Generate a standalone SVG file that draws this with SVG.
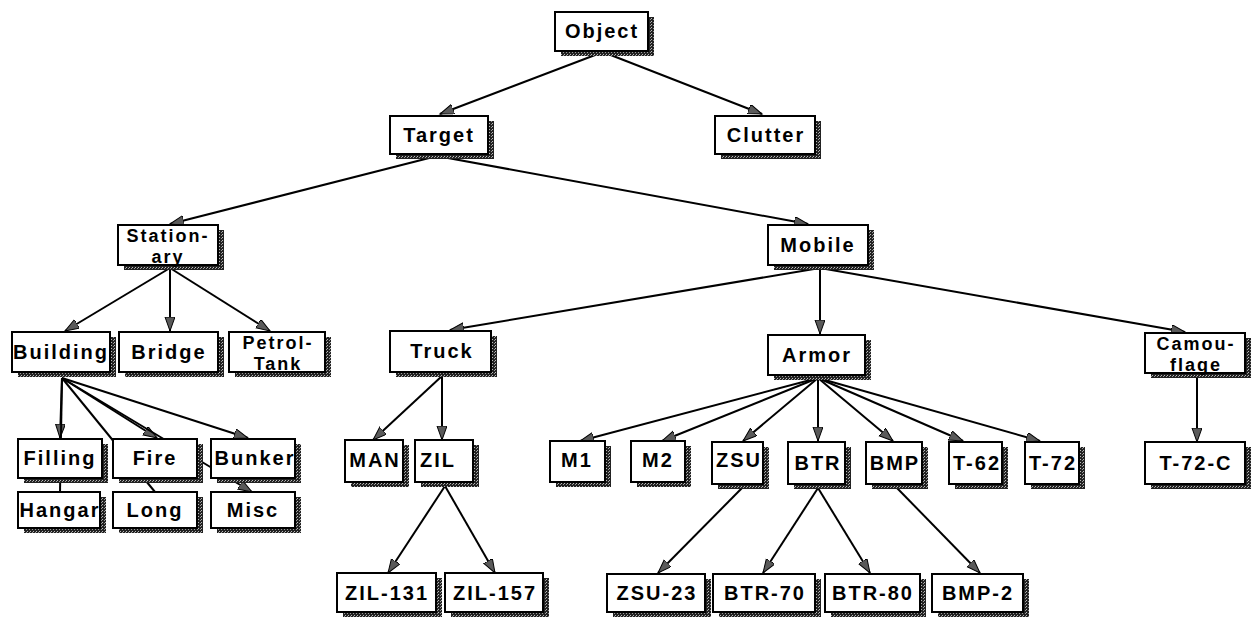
<svg xmlns="http://www.w3.org/2000/svg" width="1251" height="620" viewBox="0 0 1251 620">
<defs>
<marker id="ah" markerUnits="userSpaceOnUse" markerWidth="16" markerHeight="12" refX="14" refY="5" orient="auto">
<path d="M0,0 L14,5 L0,10 z" fill="#5a5a5a" stroke="#000" stroke-width="1"/>
</marker>
<pattern id="dither" width="3" height="3" patternUnits="userSpaceOnUse">
<rect width="3" height="3" fill="#222"/>
<rect x="0" y="0" width="1" height="1" fill="#bbb"/>
<rect x="2" y="1" width="1" height="1" fill="#999"/>
</pattern>
</defs>
<style>
.sh{fill:url(#dither)}
.bx{fill:#fff;stroke:#000;stroke-width:2}
.fr{fill:none;stroke:#000;stroke-width:2}
.t{font-family:"Liberation Sans",Arial,sans-serif;font-weight:bold;font-size:20px;letter-spacing:2px;fill:#000;text-anchor:middle}
.t2{font-size:18px}
.e{stroke:#000;stroke-width:2;fill:none}
.e.a{marker-end:url(#ah)}
</style>
<rect width="1251" height="620" fill="#fff"/>
<g id="connectors">
<line class="e a" x1="603" y1="52" x2="440" y2="114"/>
<line class="e a" x1="603" y1="52" x2="762" y2="114"/>
<line class="e a" x1="437" y1="156" x2="170" y2="224"/>
<line class="e a" x1="437" y1="156" x2="808" y2="224"/>
<line class="e a" x1="170" y1="268" x2="65" y2="331"/>
<line class="e a" x1="170" y1="268" x2="170" y2="331"/>
<line class="e a" x1="170" y1="268" x2="270" y2="331"/>
<line class="e a" x1="62" y1="378" x2="60" y2="438"/>
<line class="e a" x1="62" y1="378" x2="157" y2="438"/>
<line class="e a" x1="62" y1="378" x2="248" y2="438"/>
<line class="e" x1="62" y1="378" x2="60" y2="492"/>
<line class="e" x1="62" y1="378" x2="155" y2="492"/>
<line class="e a" x1="62" y1="378" x2="252" y2="492"/>
<line class="e a" x1="820" y1="268" x2="450" y2="330"/>
<line class="e a" x1="820" y1="268" x2="820" y2="334"/>
<line class="e a" x1="820" y1="268" x2="1185" y2="332"/>
<line class="e a" x1="442" y1="376" x2="373" y2="440"/>
<line class="e a" x1="442" y1="376" x2="442" y2="440"/>
<line class="e a" x1="445" y1="486" x2="388" y2="573"/>
<line class="e a" x1="445" y1="486" x2="495" y2="573"/>
<line class="e a" x1="818" y1="378" x2="580" y2="441"/>
<line class="e a" x1="818" y1="378" x2="662" y2="441"/>
<line class="e a" x1="818" y1="378" x2="743" y2="441"/>
<line class="e a" x1="818" y1="378" x2="818" y2="441"/>
<line class="e a" x1="818" y1="378" x2="893" y2="441"/>
<line class="e a" x1="818" y1="378" x2="963" y2="441"/>
<line class="e a" x1="818" y1="378" x2="1040" y2="441"/>
<line class="e a" x1="742" y1="488" x2="658" y2="573"/>
<line class="e a" x1="818" y1="488" x2="763" y2="573"/>
<line class="e a" x1="818" y1="488" x2="870" y2="573"/>
<line class="e a" x1="897" y1="488" x2="980" y2="573"/>
<line class="e a" x1="1197" y1="378" x2="1197" y2="442"/>
</g>
<g id="n-object"><rect class="sh" x="561" y="17" width="93" height="39"/><rect class="bx" x="555" y="12" width="93" height="39"/><text class="t" x="602" y="38">Object</text></g>
<g id="n-target"><rect class="sh" x="396" y="121" width="98" height="38"/><rect class="bx" x="390" y="116" width="98" height="38"/><text class="t" x="439" y="142">Target</text></g>
<g id="n-clutter"><rect class="sh" x="721" y="121" width="100" height="38"/><rect class="bx" x="715" y="116" width="100" height="38"/><text class="t" x="766" y="142">Clutter</text></g>
<g id="n-stationary"><rect class="sh" x="124" y="230" width="100" height="40"/><rect class="bx" x="118" y="225" width="100" height="40"/><text class="t t2" x="168" y="242">Station-</text><text class="t t2" x="168" y="263">ary</text><rect class="fr" x="118" y="225" width="100" height="40"/></g>
<g id="n-mobile"><rect class="sh" x="774" y="230" width="100" height="40"/><rect class="bx" x="768" y="225" width="100" height="40"/><text class="t" x="818" y="252">Mobile</text></g>
<g id="n-building"><rect class="sh" x="18" y="337" width="98" height="40"/><rect class="bx" x="12" y="332" width="98" height="40"/><text class="t" x="61" y="359">Building</text><rect class="fr" x="12" y="332" width="98" height="40"/></g>
<g id="n-bridge"><rect class="sh" x="125" y="337" width="99" height="40"/><rect class="bx" x="119" y="332" width="99" height="40"/><text class="t" x="169" y="359">Bridge</text></g>
<g id="n-petrol"><rect class="sh" x="235" y="337" width="96" height="40"/><rect class="bx" x="229" y="332" width="96" height="40"/><text class="t t2" x="278" y="349">Petrol-</text><text class="t t2" x="278" y="370">Tank</text><rect class="fr" x="229" y="332" width="96" height="40"/></g>
<g id="n-truck"><rect class="sh" x="396" y="336" width="101" height="41"/><rect class="bx" x="390" y="331" width="101" height="41"/><text class="t" x="442" y="358">Truck</text></g>
<g id="n-armor"><rect class="sh" x="774" y="340" width="97" height="40"/><rect class="bx" x="768" y="335" width="97" height="40"/><text class="t" x="817" y="362">Armor</text></g>
<g id="n-camouflage"><rect class="sh" x="1151" y="338" width="100" height="40"/><rect class="bx" x="1145" y="333" width="100" height="40"/><text class="t t2" x="1196" y="350">Camou-</text><text class="t t2" x="1196" y="371">flage</text><rect class="fr" x="1145" y="333" width="100" height="40"/></g>
<g id="n-filling"><rect class="sh" x="24" y="444" width="84" height="39"/><rect class="bx" x="18" y="439" width="84" height="39"/><text class="t" x="60" y="465">Filling</text></g>
<g id="n-fire"><rect class="sh" x="119" y="444" width="84" height="39"/><rect class="bx" x="113" y="439" width="84" height="39"/><text class="t" x="155" y="465">Fire</text></g>
<g id="n-bunker"><rect class="sh" x="217" y="444" width="84" height="39"/><rect class="bx" x="211" y="439" width="84" height="39"/><text class="t" x="255" y="465">Bunker</text><rect class="fr" x="211" y="439" width="84" height="39"/></g>
<g id="n-hangar"><rect class="sh" x="24" y="497" width="82" height="36"/><rect class="bx" x="18" y="492" width="82" height="36"/><text class="t" x="60" y="517">Hangar</text><rect class="fr" x="18" y="492" width="82" height="36"/></g>
<g id="n-long"><rect class="sh" x="119" y="497" width="84" height="36"/><rect class="bx" x="113" y="492" width="84" height="36"/><text class="t" x="155" y="517">Long</text></g>
<g id="n-misc"><rect class="sh" x="217" y="497" width="84" height="36"/><rect class="bx" x="211" y="492" width="84" height="36"/><text class="t" x="253" y="517">Misc</text></g>
<g id="n-man"><rect class="sh" x="351" y="445" width="58" height="42"/><rect class="bx" x="345" y="440" width="58" height="42"/><text class="t" x="375" y="467">MAN</text><rect class="fr" x="345" y="440" width="58" height="42"/></g>
<g id="n-zil"><rect class="sh" x="421" y="445" width="58" height="42"/><rect class="bx" x="415" y="440" width="58" height="42"/><text class="t" x="438" y="467">ZIL</text></g>
<g id="n-m1"><rect class="sh" x="556" y="446" width="55" height="41"/><rect class="bx" x="550" y="441" width="55" height="41"/><text class="t" x="577" y="467">M1</text></g>
<g id="n-m2"><rect class="sh" x="637" y="446" width="54" height="41"/><rect class="bx" x="631" y="441" width="54" height="41"/><text class="t" x="658" y="467">M2</text></g>
<g id="n-zsu"><rect class="sh" x="718" y="447" width="51" height="42"/><rect class="bx" x="712" y="442" width="51" height="42"/><text class="t" x="739" y="467">ZSU</text><rect class="fr" x="712" y="442" width="51" height="42"/></g>
<g id="n-btr"><rect class="sh" x="794" y="447" width="57" height="42"/><rect class="bx" x="788" y="442" width="57" height="42"/><text class="t" x="818" y="470">BTR</text><rect class="fr" x="788" y="442" width="57" height="42"/></g>
<g id="n-bmp"><rect class="sh" x="872" y="447" width="56" height="42"/><rect class="bx" x="866" y="442" width="56" height="42"/><text class="t" x="895" y="470">BMP</text><rect class="fr" x="866" y="442" width="56" height="42"/></g>
<g id="n-t62"><rect class="sh" x="955" y="447" width="53" height="42"/><rect class="bx" x="949" y="442" width="53" height="42"/><text class="t" x="977" y="470">T-62</text><rect class="fr" x="949" y="442" width="53" height="42"/></g>
<g id="n-t72"><rect class="sh" x="1031" y="447" width="54" height="42"/><rect class="bx" x="1025" y="442" width="54" height="42"/><text class="t" x="1053" y="470">T-72</text><rect class="fr" x="1025" y="442" width="54" height="42"/></g>
<g id="n-t72c"><rect class="sh" x="1151" y="447" width="100" height="42"/><rect class="bx" x="1145" y="442" width="100" height="42"/><text class="t" x="1196" y="470">T-72-C</text></g>
<g id="n-zil131"><rect class="sh" x="343" y="578" width="99" height="39"/><rect class="bx" x="337" y="573" width="99" height="39"/><text class="t" x="387" y="600">ZIL-131</text><rect class="fr" x="337" y="573" width="99" height="39"/></g>
<g id="n-zil157"><rect class="sh" x="451" y="578" width="98" height="39"/><rect class="bx" x="445" y="573" width="98" height="39"/><text class="t" x="495" y="600">ZIL-157</text><rect class="fr" x="445" y="573" width="98" height="39"/></g>
<g id="n-zsu23"><rect class="sh" x="613" y="579" width="98" height="38"/><rect class="bx" x="607" y="574" width="98" height="38"/><text class="t" x="657" y="600">ZSU-23</text></g>
<g id="n-btr70"><rect class="sh" x="719" y="579" width="102" height="38"/><rect class="bx" x="713" y="574" width="102" height="38"/><text class="t" x="765" y="600">BTR-70</text></g>
<g id="n-btr80"><rect class="sh" x="831" y="579" width="95" height="38"/><rect class="bx" x="825" y="574" width="95" height="38"/><text class="t" x="873" y="600">BTR-80</text></g>
<g id="n-bmp2"><rect class="sh" x="938" y="579" width="91" height="38"/><rect class="bx" x="932" y="574" width="91" height="38"/><text class="t" x="978" y="600">BMP-2</text></g>
</svg>
